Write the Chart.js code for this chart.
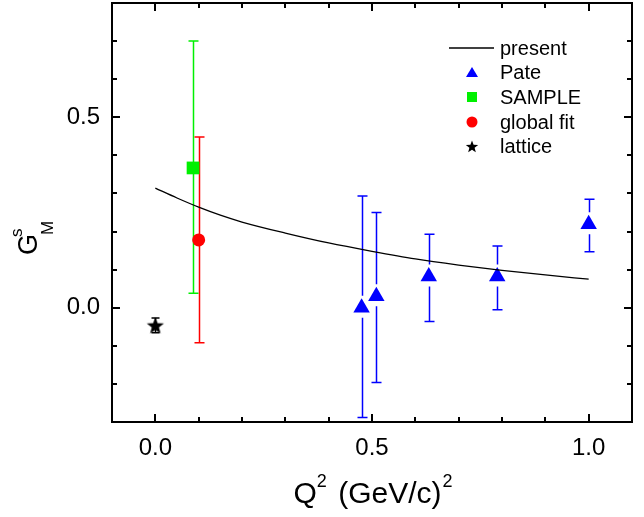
<!DOCTYPE html>
<html>
<head>
<meta charset="utf-8">
<script src="https://cdn.jsdelivr.net/npm/chart.js@4/dist/chart.umd.min.js"></script>
<style>
  html,body{margin:0;padding:0;background:#fff}
  #c{display:block}
</style>
</head>
<body>
<canvas id="c" width="644" height="517"></canvas>
<script>
// present calculation (curve)
const curveQ2 = [0, 0.05, 0.1, 0.15, 0.2, 0.3, 0.4, 0.5, 0.6, 0.7, 0.8, 0.9, 1.0];
const curveG  = [0.314, 0.288, 0.264, 0.243, 0.225, 0.196, 0.170, 0.148, 0.128, 0.112, 0.098, 0.086, 0.075];

// Pate
const pateQ2 = [0.476, 0.51, 0.631, 0.789, 1.0];
const pateG  = [0.0, 0.03, 0.082, 0.082, 0.219];
const pateHi = [0.293, 0.25, 0.193, 0.162, 0.285];
const pateLo = [-0.288, -0.196, -0.036, -0.005, 0.147];

// SAMPLE
const sampleQ2 = [0.087];
const sampleG  = [0.367];
const sampleHi = [0.70];
const sampleLo = [0.038];

// global fit
const globalQ2 = [0.1];
const globalG  = [0.178];
const globalHi = [0.448];
const globalLo = [-0.092];

// lattice
const latticeQ2 = [0];
const latticeG  = [-0.047];
const latticeHi = [-0.027];
const latticeLo = [-0.066];

const xTickLabels = ['0.0', '0.5', '1.0'];
const yTickLabels = ['0.0', '0.5'];

const BLUE = '#0000ff', GREEN = '#00f000', RED = '#ff0000';
const FONT = '"Liberation Sans", Arial, Helvetica, sans-serif';

function pts(xs, ys){ return xs.map((x,i)=>({x, y: ys[i]})); }
function isMajor(v){ return Math.abs(v*2 - Math.round(v*2)) < 1e-6; }
function lbl(v, list){
  if(!isMajor(v)) return '';
  const s = (Math.round(v*2)/2).toFixed(1);
  return list.includes(s) ? s : '';
}

function starPath(ctx, x, y, R){
  const r = R*0.42;
  ctx.beginPath();
  for(let i=0;i<10;i++){
    const rr = i%2 ? r : R;
    const a = -Math.PI/2 + i*Math.PI/5;
    const px = x + rr*Math.cos(a), py = y + rr*Math.sin(a);
    i ? ctx.lineTo(px,py) : ctx.moveTo(px,py);
  }
  ctx.closePath();
}
function starImage(R, color){
  const c = document.createElement('canvas');
  c.width = c.height = Math.ceil(R*2+2);
  const g = c.getContext('2d');
  g.fillStyle = color;
  starPath(g, c.width/2, c.height/2+0.5, R);
  g.fill();
  return c;
}

// error bars, drawn under the markers
const errorBars = {
  id:'errorBars',
  beforeDatasetsDraw(chart){
    const {ctx, scales:{x, y}} = chart;
    chart.data.datasets.forEach(ds=>{
      if(!ds.errHi) return;
      ctx.save();
      ctx.strokeStyle = ds.errColor;
      ctx.lineWidth = 1.5;
      ds.data.forEach((p, i)=>{
        const px = Math.round(x.getPixelForValue(p.x)) + 0.5;
        const py = y.getPixelForValue(p.y);
        const yh = y.getPixelForValue(ds.errHi[i]);
        const yl = y.getPixelForValue(ds.errLo[i]);
        const cap = ds.capW;
        ctx.beginPath();
        if(ds.gapTop){
          if(py - ds.gapTop > yh){ ctx.moveTo(px, yh); ctx.lineTo(px, py - ds.gapTop); }
          if(py + ds.gapBot < yl){ ctx.moveTo(px, py + ds.gapBot); ctx.lineTo(px, yl); }
        } else {
          ctx.moveTo(px, yh); ctx.lineTo(px, yl);
        }
        ctx.moveTo(px-cap, yh); ctx.lineTo(px+cap, yh);
        ctx.moveTo(px-cap, yl); ctx.lineTo(px+cap, yl);
        ctx.stroke();
      });
      ctx.restore();
    });
  }
};

// frame, inward ticks, titles and legend
const decor = {
  id:'decor',
  afterDraw(chart){
    const {ctx, chartArea:a, scales:{x, y}} = chart;
    ctx.save();
    ctx.strokeStyle = '#000';
    ctx.lineWidth = 2;
    ctx.strokeRect(a.left, a.top, a.right-a.left, a.bottom-a.top);
    ctx.beginPath();
    x.ticks.forEach(t=>{
      const px = Math.round(x.getPixelForValue(t.value));
      const len = isMajor(t.value) ? 8 : 5;
      ctx.moveTo(px, a.bottom); ctx.lineTo(px, a.bottom-len);
      ctx.moveTo(px, a.top); ctx.lineTo(px, a.top+len);
    });
    y.ticks.forEach(t=>{
      const py = Math.round(y.getPixelForValue(t.value));
      const len = isMajor(t.value) ? 8 : 5;
      ctx.moveTo(a.left, py); ctx.lineTo(a.left+len, py);
      ctx.moveTo(a.right, py); ctx.lineTo(a.right-len, py);
    });
    ctx.stroke();

    // x title: Q^2 (GeV/c)^2
    ctx.fillStyle = '#000';
    ctx.textBaseline = 'alphabetic';
    const big = '30px ' + FONT, sup = '18px ' + FONT;
    // [text, font, baseline shift, extra gap after]
    const parts = [['Q', big, 0, 0], ['2', sup, -16, 3], [' (GeV/c)', big, 0, 1], ['2', sup, -16, 0]];
    let w = 0;
    parts.forEach(p=>{ ctx.font = p[1]; w += ctx.measureText(p[0]).width + p[3]; });
    let cx = x.getPixelForValue(0.5) + 1 - w/2;
    const base = 503;
    parts.forEach(p=>{ ctx.font = p[1]; ctx.fillText(p[0], cx, base + p[2]); cx += ctx.measureText(p[0]).width + p[3]; });

    // y title: G^s_M rotated
    ctx.save();
    ctx.translate(37, 255);
    ctx.rotate(-Math.PI/2);
    ctx.font = '27px ' + FONT;
    ctx.fillText('G', 0, 0);
    ctx.font = '17px ' + FONT;
    ctx.fillText('s', 18, -15);
    ctx.fillText('M', 20, 16);
    ctx.restore();

    // legend
    const lx = 472, tx = 500;
    const rows = [48, 72, 97, 122, 146];
    ctx.font = '20px ' + FONT;
    ctx.textBaseline = 'middle';
    ['present','Pate','SAMPLE','global fit','lattice'].forEach((s,i)=>ctx.fillText(s, tx, rows[i]+1));
    ctx.lineWidth = 1.3;
    ctx.beginPath(); ctx.moveTo(449, rows[0]); ctx.lineTo(494, rows[0]); ctx.stroke();
    ctx.fillStyle = BLUE;
    ctx.beginPath(); ctx.moveTo(lx, rows[1]-5); ctx.lineTo(lx+6, rows[1]+5); ctx.lineTo(lx-6, rows[1]+5); ctx.closePath(); ctx.fill();
    ctx.fillStyle = GREEN; ctx.fillRect(lx-5, rows[2]-5, 10, 10);
    ctx.fillStyle = RED; ctx.beginPath(); ctx.arc(lx, rows[3], 5.5, 0, Math.PI*2); ctx.fill();
    ctx.fillStyle = '#000'; starPath(ctx, lx, rows[4]+1, 6.5); ctx.fill();
    ctx.restore();
  }
};

new Chart(document.getElementById('c'), {
  type:'scatter',
  data:{
    datasets:[
      { type:'line', label:'present', data: pts(curveQ2, curveG), borderColor:'#000', borderWidth:1.3,
        pointRadius:0, cubicInterpolationMode:'monotone', fill:false },
      { label:'Pate', data: pts(pateQ2, pateG), pointStyle:'triangle', pointRadius:9.5,
        backgroundColor:BLUE, borderColor:BLUE, borderWidth:0,
        errHi: pateHi, errLo: pateLo, errColor: BLUE, capW:5, gapTop:12, gapBot:10 },
      { label:'SAMPLE', data: pts(sampleQ2, sampleG), pointStyle:'rect', pointRadius:9,
        backgroundColor:GREEN, borderColor:GREEN, borderWidth:0,
        errHi: sampleHi, errLo: sampleLo, errColor: GREEN, capW:5 },
      { label:'global fit', data: pts(globalQ2, globalG), pointStyle:'circle', pointRadius:6.5,
        backgroundColor:RED, borderColor:RED, borderWidth:0,
        errHi: globalHi, errLo: globalLo, errColor: RED, capW:5 },
      { label:'lattice', data: pts(latticeQ2, latticeG), pointStyle: starImage(9, '#000'), pointRadius:9,
        backgroundColor:'#000', borderColor:'#000', borderWidth:0,
        errHi: latticeHi, errLo: latticeLo, errColor: '#000', capW:4 }
    ]
  },
  options:{
    responsive:false,
    animation:false,
    layout:{ autoPadding:false, padding:{ top:3, right:12, left:0, bottom:0 } },
    plugins:{ legend:{display:false}, tooltip:{enabled:false} },
    scales:{
      x:{
        type:'linear', min:-0.1, max:1.1,
        afterFit(s){ s.height = 95; s.paddingLeft = 0; s.paddingRight = 0; },
        grid:{ display:false, drawTicks:false }, border:{ display:false },
        ticks:{ stepSize:0.1, padding:12, maxRotation:0, autoSkip:false, color:'#000',
          font:{ family:FONT, size:24 }, callback:v=>lbl(v, xTickLabels) }
      },
      y:{
        type:'linear', min:-0.3, max:0.8,
        afterFit(s){ s.width = 112; s.paddingTop = 0; s.paddingBottom = 0; },
        grid:{ display:false, drawTicks:false }, border:{ display:false },
        ticks:{ stepSize:0.1, padding:12, autoSkip:false, color:'#000',
          font:{ family:FONT, size:24 }, callback:v=>lbl(v, yTickLabels) }
      }
    }
  },
  plugins:[errorBars, decor]
});
</script>
</body>
</html>
